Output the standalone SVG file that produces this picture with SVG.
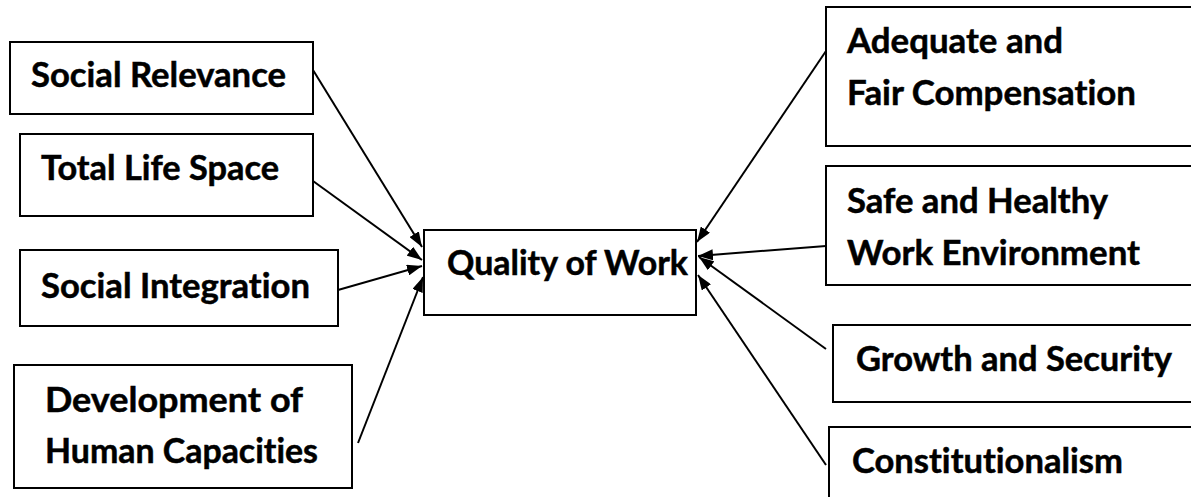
<svg xmlns="http://www.w3.org/2000/svg" width="1191" height="497" viewBox="0 0 1191 497">
  <style>
    .box { fill: #ffffff; stroke: #000000; stroke-width: 2; }
    .lbl { font-family: Lato, "Liberation Sans", sans-serif; font-weight: bold; font-size: 34px; fill: #000000; stroke: #000000; stroke-width: 0.5; font-variant-ligatures: none; }
    .edge { stroke: #000000; stroke-width: 2; fill: none; marker-end: url(#head); }
  </style>
  <defs>
    <marker id="head" viewBox="0 0 15 11" refX="15" refY="5.5" markerWidth="15" markerHeight="11" markerUnits="userSpaceOnUse" orient="auto">
      <path d="M0,0 L15,5.5 L0,11 Z" fill="#000000"/>
    </marker>
  </defs>

  <rect width="1191" height="497" fill="#ffffff"/>

  <!-- left-hand factors -->
  <g id="social-relevance">
    <rect class="box" x="10" y="42" width="303" height="72"/>
    <text class="lbl" x="31" y="87" textLength="255" lengthAdjust="spacingAndGlyphs">Social Relevance</text>
  </g>
  <g id="total-life-space">
    <rect class="box" x="20" y="134" width="293" height="82"/>
    <text class="lbl" x="41" y="180" textLength="238" lengthAdjust="spacingAndGlyphs">Total Life Space</text>
  </g>
  <g id="social-integration">
    <rect class="box" x="20" y="250" width="318" height="76"/>
    <text class="lbl" x="41" y="298" textLength="269" lengthAdjust="spacingAndGlyphs">Social Integration</text>
  </g>
  <g id="human-capacities">
    <rect class="box" x="14" y="365" width="338" height="123"/>
    <text class="lbl" x="45" y="412" textLength="258" lengthAdjust="spacingAndGlyphs">Development of</text>
    <text class="lbl" x="45" y="463" textLength="273" lengthAdjust="spacingAndGlyphs">Human Capacities</text>
  </g>

  <!-- central concept -->
  <g id="quality-of-work">
    <rect class="box" x="424" y="230" width="272" height="85"/>
    <text class="lbl" x="447" y="275" textLength="241" lengthAdjust="spacingAndGlyphs">Quality of Work</text>
  </g>

  <!-- right-hand factors -->
  <g id="compensation">
    <rect class="box" x="826" y="7" width="380" height="139"/>
    <text class="lbl" x="847" y="53" textLength="216" lengthAdjust="spacingAndGlyphs">Adequate and</text>
    <text class="lbl" x="847" y="105" textLength="289" lengthAdjust="spacingAndGlyphs">Fair Compensation</text>
  </g>
  <g id="work-environment">
    <rect class="box" x="826" y="166" width="380" height="119"/>
    <text class="lbl" x="847" y="213" textLength="261" lengthAdjust="spacingAndGlyphs">Safe and Healthy</text>
    <text class="lbl" x="847" y="265" textLength="293" lengthAdjust="spacingAndGlyphs">Work Environment</text>
  </g>
  <g id="growth-security">
    <rect class="box" x="833" y="325" width="380" height="77"/>
    <text class="lbl" x="856" y="371" textLength="316" lengthAdjust="spacingAndGlyphs">Growth and Security</text>
  </g>
  <g id="constitutionalism">
    <rect class="box" x="829" y="427" width="380" height="90"/>
    <text class="lbl" x="852" y="473" textLength="271" lengthAdjust="spacingAndGlyphs">Constitutionalism</text>
  </g>

  <!-- connectors -->
  <g id="connectors">
    <line class="edge" x1="313" y1="70" x2="422" y2="247"/>
    <line class="edge" x1="313" y1="181" x2="422" y2="260"/>
    <line class="edge" x1="338" y1="290" x2="422" y2="266"/>
    <line class="edge" x1="358" y1="443" x2="423" y2="277"/>
    <line class="edge" x1="826" y1="51" x2="697" y2="242"/>
    <line class="edge" x1="826" y1="246" x2="698" y2="256"/>
    <line class="edge" x1="826" y1="349" x2="699" y2="257"/>
    <line class="edge" x1="826" y1="465" x2="698" y2="275"/>
  </g>
</svg>
